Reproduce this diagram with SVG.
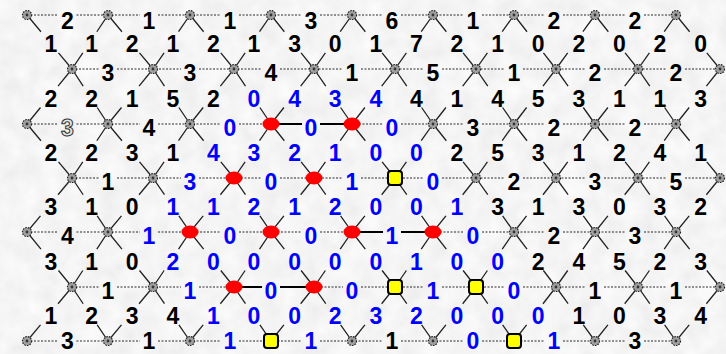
<svg xmlns="http://www.w3.org/2000/svg" xmlns:xlink="http://www.w3.org/1999/xlink" width="726" height="354" viewBox="0 0 726 354">
<style>
.k{fill:#000}
.b{fill:#0000ff}
.h{fill:#e4e4e4;stroke:#333;stroke-width:1}
text{font-family:"Liberation Sans",Arial,sans-serif;font-weight:bold;font-size:23px;text-anchor:middle}
.dot{fill:none;stroke:#2a2a2a;stroke-width:1;stroke-dasharray:2 1.5}
.sol{fill:none;stroke:#000;stroke-width:2}
.dg path{fill:none;stroke:#222;stroke-width:1.3;stroke-dasharray:31 39 30}
</style>
<defs>
<filter id="tex" x="0" y="0" width="100%" height="100%">
<feTurbulence type="fractalNoise" baseFrequency="0.05" numOctaves="3" seed="4"/>
<feColorMatrix type="matrix" values="0.16 0 0 0 0.83  0.16 0 0 0 0.83  0.16 0 0 0 0.83  0 0 0 0 1"/>
</filter>
<g id="n"><circle r="4.5" fill="#a0a0a0" stroke="#222" stroke-width="1.2" stroke-dasharray="1.6 1.1"/><circle r="1.4" fill="#333"/></g>
<ellipse id="r" rx="8.5" ry="6.5" fill="#ff0000"/>
<rect id="y" x="-7" y="-7" width="14" height="14" rx="3" fill="#ffff00" stroke="#000" stroke-width="2"/>
</defs>
<rect width="726" height="354" fill="#e6e6e6"/>
<rect width="726" height="354" filter="url(#tex)"/>
<g id="connectors">
<g id="horizontal">
<path class="dot" d="M27 15H58.5M76.5 15H140M158 15H221M239 15H302M320 15H383M401 15H464M482 15H545M563 15H626M644 15H676"/>
<path class="dot" d="M72 69H99M117 69H181M199 69H262M280 69H343M361 69H424M442 69H505M523 69H586M604 69H667M685 69H720"/>
<path class="dot" d="M27 124H58.5M76.5 124H140M158 124H221M239 124H271M352 124H383M401 124H464M482 124H545M563 124H626M644 124H676"/>
<path class="dot" d="M72 178H99M117 178H181M199 178H262M280 178H343M361 178H424M442 178H505M523 178H586M604 178H667M685 178H720"/>
<path class="dot" d="M27 232H58.5M76.5 232H140M158 232H221M239 232H302M320 232H352M433 232H464M482 232H545M563 232H626M644 232H676"/>
<path class="dot" d="M72 287H99M117 287H181M199 287H234M314 287H343M361 287H424M442 287H505M523 287H586M604 287H667M685 287H720"/>
<path class="dot" d="M27 341H58.5M76.5 341H140M158 341H221M239 341H302M320 341H383M401 341H464M482 341H545M563 341H626M644 341H676"/>
<path class="sol" d="M271 124H302M320 124H352M352 232H383M401 232H433M234 287H262M280 287H314"/>
</g>
<g class="dg" id="diagonal">
<path pathLength="100" d="M27 15L72 69"/><path pathLength="100" d="M108 15L72 69"/><path pathLength="100" d="M108 15L153 69"/><path pathLength="100" d="M190 15L153 69"/><path pathLength="100" d="M190 15L234 69"/><path pathLength="100" d="M271 15L234 69"/><path pathLength="100" d="M271 15L314 69"/><path pathLength="100" d="M352 15L314 69"/><path pathLength="100" d="M352 15L395 69"/><path pathLength="100" d="M433 15L395 69"/><path pathLength="100" d="M433 15L476 69"/><path pathLength="100" d="M514 15L476 69"/><path pathLength="100" d="M514 15L556 69"/><path pathLength="100" d="M595 15L556 69"/><path pathLength="100" d="M595 15L638 69"/><path pathLength="100" d="M676 15L638 69"/><path pathLength="100" d="M676 15L720 69"/>
<path pathLength="100" d="M72 69L27 124"/><path pathLength="100" d="M72 69L108 124"/><path pathLength="100" d="M153 69L108 124"/><path pathLength="100" d="M153 69L190 124"/><path pathLength="100" d="M234 69L190 124"/><path pathLength="100" d="M234 69L271 124"/><path pathLength="100" d="M314 69L271 124"/><path pathLength="100" d="M314 69L352 124"/><path pathLength="100" d="M395 69L352 124"/><path pathLength="100" d="M395 69L433 124"/><path pathLength="100" d="M476 69L433 124"/><path pathLength="100" d="M476 69L514 124"/><path pathLength="100" d="M556 69L514 124"/><path pathLength="100" d="M556 69L595 124"/><path pathLength="100" d="M638 69L595 124"/><path pathLength="100" d="M638 69L676 124"/><path pathLength="100" d="M720 69L676 124"/>
<path pathLength="100" d="M27 124L72 178"/><path pathLength="100" d="M108 124L72 178"/><path pathLength="100" d="M108 124L153 178"/><path pathLength="100" d="M190 124L153 178"/><path pathLength="100" d="M190 124L234 178"/><path pathLength="100" d="M271 124L234 178"/><path pathLength="100" d="M271 124L314 178"/><path pathLength="100" d="M352 124L314 178"/><path pathLength="100" d="M352 124L395 178"/><path pathLength="100" d="M433 124L395 178"/><path pathLength="100" d="M433 124L476 178"/><path pathLength="100" d="M514 124L476 178"/><path pathLength="100" d="M514 124L556 178"/><path pathLength="100" d="M595 124L556 178"/><path pathLength="100" d="M595 124L638 178"/><path pathLength="100" d="M676 124L638 178"/><path pathLength="100" d="M676 124L720 178"/>
<path pathLength="100" d="M72 178L27 232"/><path pathLength="100" d="M72 178L108 232"/><path pathLength="100" d="M153 178L108 232"/><path pathLength="100" d="M153 178L190 232"/><path pathLength="100" d="M234 178L190 232"/><path pathLength="100" d="M234 178L271 232"/><path pathLength="100" d="M314 178L271 232"/><path pathLength="100" d="M314 178L352 232"/><path pathLength="100" d="M395 178L352 232"/><path pathLength="100" d="M395 178L433 232"/><path pathLength="100" d="M476 178L433 232"/><path pathLength="100" d="M476 178L514 232"/><path pathLength="100" d="M556 178L514 232"/><path pathLength="100" d="M556 178L595 232"/><path pathLength="100" d="M638 178L595 232"/><path pathLength="100" d="M638 178L676 232"/><path pathLength="100" d="M720 178L676 232"/>
<path pathLength="100" d="M27 232L72 287"/><path pathLength="100" d="M108 232L72 287"/><path pathLength="100" d="M108 232L153 287"/><path pathLength="100" d="M190 232L153 287"/><path pathLength="100" d="M190 232L234 287"/><path pathLength="100" d="M271 232L234 287"/><path pathLength="100" d="M271 232L314 287"/><path pathLength="100" d="M352 232L314 287"/><path pathLength="100" d="M352 232L395 287"/><path pathLength="100" d="M433 232L395 287"/><path pathLength="100" d="M433 232L476 287"/><path pathLength="100" d="M514 232L476 287"/><path pathLength="100" d="M514 232L556 287"/><path pathLength="100" d="M595 232L556 287"/><path pathLength="100" d="M595 232L638 287"/><path pathLength="100" d="M676 232L638 287"/><path pathLength="100" d="M676 232L720 287"/>
<path pathLength="100" d="M72 287L27 341"/><path pathLength="100" d="M72 287L108 341"/><path pathLength="100" d="M153 287L108 341"/><path pathLength="100" d="M153 287L190 341"/><path pathLength="100" d="M234 287L190 341"/><path pathLength="100" d="M234 287L271 341"/><path pathLength="100" d="M314 287L271 341"/><path pathLength="100" d="M314 287L352 341"/><path pathLength="100" d="M395 287L352 341"/><path pathLength="100" d="M395 287L433 341"/><path pathLength="100" d="M476 287L433 341"/><path pathLength="100" d="M476 287L514 341"/><path pathLength="100" d="M556 287L514 341"/><path pathLength="100" d="M556 287L595 341"/><path pathLength="100" d="M638 287L595 341"/><path pathLength="100" d="M638 287L676 341"/><path pathLength="100" d="M720 287L676 341"/>
</g>
</g>
<g id="nodes">
<g id="r0c0" transform="translate(27 15)"><use href="#n"/></g>
<g id="r0c1" transform="translate(108 15)"><use href="#n"/></g>
<g id="r0c2" transform="translate(190 15)"><use href="#n"/></g>
<g id="r0c3" transform="translate(271 15)"><use href="#n"/></g>
<g id="r0c4" transform="translate(352 15)"><use href="#n"/></g>
<g id="r0c5" transform="translate(433 15)"><use href="#n"/></g>
<g id="r0c6" transform="translate(514 15)"><use href="#n"/></g>
<g id="r0c7" transform="translate(595 15)"><use href="#n"/></g>
<g id="r0c8" transform="translate(676 15)"><use href="#n"/></g>
<g id="r1c0" transform="translate(72 69)"><use href="#n"/></g>
<g id="r1c1" transform="translate(153 69)"><use href="#n"/></g>
<g id="r1c2" transform="translate(234 69)"><use href="#n"/></g>
<g id="r1c3" transform="translate(314 69)"><use href="#n"/></g>
<g id="r1c4" transform="translate(395 69)"><use href="#n"/></g>
<g id="r1c5" transform="translate(476 69)"><use href="#n"/></g>
<g id="r1c6" transform="translate(556 69)"><use href="#n"/></g>
<g id="r1c7" transform="translate(638 69)"><use href="#n"/></g>
<g id="r1c8" transform="translate(720 69)"><use href="#n"/></g>
<g id="r2c0" transform="translate(27 124)"><use href="#n"/></g>
<g id="r2c1" transform="translate(108 124)"><use href="#n"/></g>
<g id="r2c2" transform="translate(190 124)"><use href="#n"/></g>
<g id="r2c3" transform="translate(271 124)"><use href="#r"/></g>
<g id="r2c4" transform="translate(352 124)"><use href="#r"/></g>
<g id="r2c5" transform="translate(433 124)"><use href="#n"/></g>
<g id="r2c6" transform="translate(514 124)"><use href="#n"/></g>
<g id="r2c7" transform="translate(595 124)"><use href="#n"/></g>
<g id="r2c8" transform="translate(676 124)"><use href="#n"/></g>
<g id="r3c0" transform="translate(72 178)"><use href="#n"/></g>
<g id="r3c1" transform="translate(153 178)"><use href="#n"/></g>
<g id="r3c2" transform="translate(234 178)"><use href="#r"/></g>
<g id="r3c3" transform="translate(314 178)"><use href="#r"/></g>
<g id="r3c4" transform="translate(395 178)"><use href="#y"/></g>
<g id="r3c5" transform="translate(476 178)"><use href="#n"/></g>
<g id="r3c6" transform="translate(556 178)"><use href="#n"/></g>
<g id="r3c7" transform="translate(638 178)"><use href="#n"/></g>
<g id="r3c8" transform="translate(720 178)"><use href="#n"/></g>
<g id="r4c0" transform="translate(27 232)"><use href="#n"/></g>
<g id="r4c1" transform="translate(108 232)"><use href="#n"/></g>
<g id="r4c2" transform="translate(190 232)"><use href="#r"/></g>
<g id="r4c3" transform="translate(271 232)"><use href="#r"/></g>
<g id="r4c4" transform="translate(352 232)"><use href="#r"/></g>
<g id="r4c5" transform="translate(433 232)"><use href="#r"/></g>
<g id="r4c6" transform="translate(514 232)"><use href="#n"/></g>
<g id="r4c7" transform="translate(595 232)"><use href="#n"/></g>
<g id="r4c8" transform="translate(676 232)"><use href="#n"/></g>
<g id="r5c0" transform="translate(72 287)"><use href="#n"/></g>
<g id="r5c1" transform="translate(153 287)"><use href="#n"/></g>
<g id="r5c2" transform="translate(234 287)"><use href="#r"/></g>
<g id="r5c3" transform="translate(314 287)"><use href="#r"/></g>
<g id="r5c4" transform="translate(395 287)"><use href="#y"/></g>
<g id="r5c5" transform="translate(476 287)"><use href="#y"/></g>
<g id="r5c6" transform="translate(556 287)"><use href="#n"/></g>
<g id="r5c7" transform="translate(638 287)"><use href="#n"/></g>
<g id="r5c8" transform="translate(720 287)"><use href="#n"/></g>
<g id="r6c0" transform="translate(27 341)"><use href="#n"/></g>
<g id="r6c1" transform="translate(108 341)"><use href="#n"/></g>
<g id="r6c2" transform="translate(190 341)"><use href="#n"/></g>
<g id="r6c3" transform="translate(271 341)"><use href="#y"/></g>
<g id="r6c4" transform="translate(352 341)"><use href="#n"/></g>
<g id="r6c5" transform="translate(433 341)"><use href="#n"/></g>
<g id="r6c6" transform="translate(514 341)"><use href="#y"/></g>
<g id="r6c7" transform="translate(595 341)"><use href="#n"/></g>
<g id="r6c8" transform="translate(676 341)"><use href="#n"/></g>
</g>
<g id="labels">
<text class="k" x="67.5" y="29">2</text><text class="k" x="149" y="29">1</text><text class="k" x="230" y="29">1</text><text class="k" x="311" y="29">3</text><text class="k" x="392" y="29">6</text><text class="k" x="473" y="29">1</text><text class="k" x="554" y="29">2</text><text class="k" x="635" y="29">2</text>
<text class="k" x="51" y="52">1</text><text class="k" x="91.6" y="52">1</text><text class="k" x="132.2" y="52">2</text><text class="k" x="172.8" y="52">1</text><text class="k" x="213.4" y="52">2</text><text class="k" x="254" y="52">1</text><text class="k" x="294.6" y="52">3</text><text class="k" x="335.2" y="52">0</text><text class="k" x="375.8" y="52">1</text><text class="k" x="416.4" y="52">7</text><text class="k" x="457" y="52">2</text><text class="k" x="497.6" y="52">1</text><text class="k" x="538.2" y="52">0</text><text class="k" x="578.8" y="52">2</text><text class="k" x="619.4" y="52">0</text><text class="k" x="660" y="52">2</text><text class="k" x="700.6" y="52">0</text>
<text class="k" x="108" y="80.5">3</text><text class="k" x="190" y="80.5">3</text><text class="k" x="271" y="80.5">4</text><text class="k" x="352" y="80.5">1</text><text class="k" x="433" y="80.5">5</text><text class="k" x="514" y="80.5">1</text><text class="k" x="595" y="80.5">2</text><text class="k" x="676" y="80.5">2</text>
<text class="k" x="51" y="106.5">2</text><text class="k" x="91.6" y="106.5">2</text><text class="k" x="132.2" y="106.5">1</text><text class="k" x="172.8" y="106.5">5</text><text class="k" x="213.4" y="106.5">2</text><text class="b" x="254" y="106.5">0</text><text class="b" x="294.6" y="106.5">4</text><text class="b" x="335.2" y="106.5">3</text><text class="b" x="375.8" y="106.5">4</text><text class="k" x="416.4" y="106.5">4</text><text class="k" x="457" y="106.5">1</text><text class="k" x="497.6" y="106.5">4</text><text class="k" x="538.2" y="106.5">5</text><text class="k" x="578.8" y="106.5">3</text><text class="k" x="619.4" y="106.5">1</text><text class="k" x="660" y="106.5">1</text><text class="k" x="700.6" y="106.5">3</text>
<text class="h" x="67.5" y="135.5">3</text><text class="k" x="149" y="135.5">4</text><text class="b" x="230" y="135.5">0</text><text class="b" x="311" y="135.5">0</text><text class="b" x="392" y="135.5">0</text><text class="k" x="473" y="135.5">3</text><text class="k" x="554" y="135.5">2</text><text class="k" x="635" y="135.5">2</text>
<text class="k" x="51" y="161">2</text><text class="k" x="91.6" y="161">2</text><text class="k" x="132.2" y="161">3</text><text class="k" x="172.8" y="161">1</text><text class="b" x="213.4" y="161">4</text><text class="b" x="254" y="161">3</text><text class="b" x="294.6" y="161">2</text><text class="b" x="335.2" y="161">1</text><text class="b" x="375.8" y="161">0</text><text class="b" x="416.4" y="161">0</text><text class="k" x="457" y="161">2</text><text class="k" x="497.6" y="161">5</text><text class="k" x="538.2" y="161">3</text><text class="k" x="578.8" y="161">1</text><text class="k" x="619.4" y="161">2</text><text class="k" x="660" y="161">4</text><text class="k" x="700.6" y="161">1</text>
<text class="k" x="108" y="189.5">1</text><text class="b" x="190" y="189.5">3</text><text class="b" x="271" y="189.5">0</text><text class="b" x="352" y="189.5">1</text><text class="b" x="433" y="189.5">0</text><text class="k" x="514" y="189.5">2</text><text class="k" x="595" y="189.5">3</text><text class="k" x="676" y="189.5">5</text>
<text class="k" x="51" y="215">3</text><text class="k" x="91.6" y="215">1</text><text class="k" x="132.2" y="215">0</text><text class="b" x="172.8" y="215">1</text><text class="b" x="213.4" y="215">1</text><text class="b" x="254" y="215">2</text><text class="b" x="294.6" y="215">1</text><text class="b" x="335.2" y="215">2</text><text class="b" x="375.8" y="215">0</text><text class="b" x="416.4" y="215">0</text><text class="b" x="457" y="215">1</text><text class="k" x="497.6" y="215">3</text><text class="k" x="538.2" y="215">1</text><text class="k" x="578.8" y="215">3</text><text class="k" x="619.4" y="215">0</text><text class="k" x="660" y="215">3</text><text class="k" x="700.6" y="215">2</text>
<text class="k" x="67.5" y="243.5">4</text><text class="b" x="149" y="243.5">1</text><text class="b" x="230" y="243.5">0</text><text class="b" x="311" y="243.5">0</text><text class="b" x="392" y="243.5">1</text><text class="b" x="473" y="243.5">0</text><text class="k" x="554" y="243.5">2</text><text class="k" x="635" y="243.5">3</text>
<text class="k" x="51" y="269.5">3</text><text class="k" x="91.6" y="269.5">1</text><text class="k" x="132.2" y="269.5">0</text><text class="b" x="172.8" y="269.5">2</text><text class="b" x="213.4" y="269.5">0</text><text class="b" x="254" y="269.5">0</text><text class="b" x="294.6" y="269.5">0</text><text class="b" x="335.2" y="269.5">0</text><text class="b" x="375.8" y="269.5">0</text><text class="b" x="416.4" y="269.5">1</text><text class="b" x="457" y="269.5">0</text><text class="b" x="497.6" y="269.5">0</text><text class="k" x="538.2" y="269.5">2</text><text class="k" x="578.8" y="269.5">4</text><text class="k" x="619.4" y="269.5">5</text><text class="k" x="660" y="269.5">2</text><text class="k" x="700.6" y="269.5">3</text>
<text class="k" x="108" y="298.5">1</text><text class="b" x="190" y="298.5">1</text><text class="b" x="271" y="298.5">0</text><text class="b" x="352" y="298.5">0</text><text class="b" x="433" y="298.5">1</text><text class="b" x="514" y="298.5">0</text><text class="k" x="595" y="298.5">1</text><text class="k" x="676" y="298.5">1</text>
<text class="k" x="51" y="324">1</text><text class="k" x="91.6" y="324">2</text><text class="k" x="132.2" y="324">3</text><text class="k" x="172.8" y="324">4</text><text class="b" x="213.4" y="324">1</text><text class="b" x="254" y="324">0</text><text class="b" x="294.6" y="324">0</text><text class="b" x="335.2" y="324">2</text><text class="b" x="375.8" y="324">3</text><text class="b" x="416.4" y="324">2</text><text class="b" x="457" y="324">0</text><text class="b" x="497.6" y="324">0</text><text class="b" x="538.2" y="324">0</text><text class="k" x="578.8" y="324">1</text><text class="k" x="619.4" y="324">0</text><text class="k" x="660" y="324">3</text><text class="k" x="700.6" y="324">4</text>
<text class="k" x="67.5" y="348.5">3</text><text class="k" x="149" y="348.5">1</text><text class="b" x="230" y="348.5">1</text><text class="b" x="311" y="348.5">1</text><text class="k" x="392" y="348.5">1</text><text class="b" x="473" y="348.5">0</text><text class="b" x="554" y="348.5">1</text><text class="k" x="635" y="348.5">3</text>
</g>
</svg>
